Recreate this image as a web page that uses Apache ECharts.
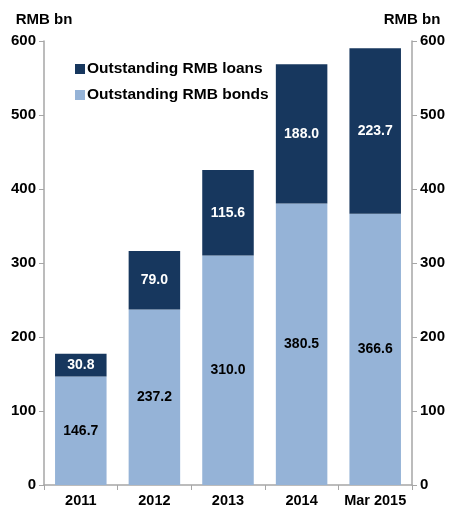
<!DOCTYPE html>
<html><head><meta charset="utf-8">
<script src="https://cdn.jsdelivr.net/npm/echarts@6/dist/echarts.min.js"></script>
<style>html,body{margin:0;padding:0;background:#fff}#c{width:453px;height:510px}</style>
</head><body><div id="c"></div>
<script>
const categories = ['2011','2012','2013','2014','Mar 2015'];
const bonds = [146.7, 237.2, 310.0, 380.5, 366.6];
const loans = [30.8, 79.0, 115.6, 188.0, 223.7];
const yTicks = [0,100,200,300,400,500,600];

const font = 'Liberation Sans, Arial, sans-serif';
const chart = echarts.init(document.getElementById('c'));
const axisLine = {show:true, lineStyle:{color:'#a6a6a6', width:1.5}};
const yLabel = {color:'#000', fontWeight:'bold', fontSize:15, fontFamily:font, margin:8};
chart.setOption({
  animation:false,
  grid:{left:44, right:41, top:41, bottom:25, containLabel:false},
  legend:{
    orient:'vertical', left:70, top:56, itemGap:10, itemWidth:10, itemHeight:10,
    icon:'rect',
    textStyle:{color:'#000', fontWeight:'bold', fontSize:15.5, fontFamily:font, padding:[0,0,0,-3]},
    data:['Outstanding RMB loans','Outstanding RMB bonds']
  },
  xAxis:{
    type:'category', data:categories,
    axisLine:axisLine,
    axisTick:{show:true, alignWithLabel:false, length:5, lineStyle:{color:'#a6a6a6'}},
    axisLabel:{interval:0, color:'#000', fontWeight:'bold', fontSize:14.5, fontFamily:font, margin:8}
  },
  yAxis:[
    {type:'value', min:0, max:600, interval:100, position:'left',
     axisLine:axisLine, axisTick:{show:true, length:5, lineStyle:{color:'#a6a6a6'}},
     splitLine:{show:false}, axisLabel:yLabel,
     name:'RMB bn', nameLocation:'end', nameGap:14,
     nameTextStyle:{color:'#000', fontWeight:'bold', fontSize:15, fontFamily:font, align:'center', padding:[0,0,0,0]}},
    {type:'value', min:0, max:600, interval:100, position:'right',
     axisLine:axisLine, axisTick:{show:true, length:5, lineStyle:{color:'#a6a6a6'}},
     splitLine:{show:false}, axisLabel:yLabel,
     name:'RMB bn', nameLocation:'end', nameGap:14,
     nameTextStyle:{color:'#000', fontWeight:'bold', fontSize:15, fontFamily:font, align:'center'}}
  ],
  series:[
    {name:'Outstanding RMB bonds', type:'bar', stack:'a', data:bonds, barWidth:'70%',
     itemStyle:{color:'#95b3d7'},
     label:{show:true, position:'inside', color:'#000', fontWeight:'bold', fontSize:14, fontFamily:font,
       formatter:p=>p.value.toFixed(1)}},
    {name:'Outstanding RMB loans', type:'bar', stack:'a', data:loans, barWidth:'70%',
     itemStyle:{color:'#17375e'},
     label:{show:true, position:'inside', color:'#fff', fontWeight:'bold', fontSize:14, fontFamily:font,
       formatter:p=>p.value.toFixed(1)}}
  ]
});
</script></body></html>
